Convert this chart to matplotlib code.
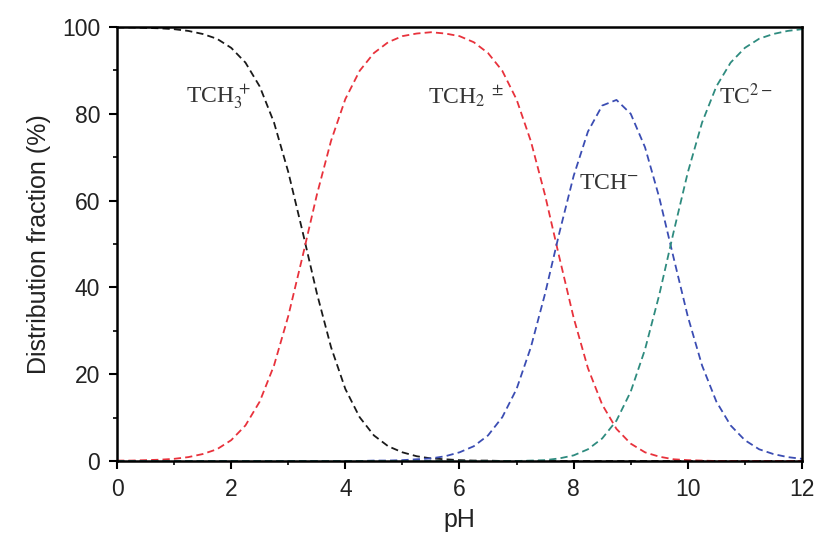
import numpy as np
import matplotlib.pyplot as plt

plt.rcParams['font.family'] = 'Liberation Sans'
plt.rcParams['mathtext.fontset'] = 'stix'

# data (pH 0 to 12 in 0.25 steps)
ph = np.arange(0, 12.01, 0.25)
tch3 = [99.9, 99.9, 99.8, 99.7, 99.5, 99.1, 98.4, 97.3, 95.2, 91.8, 86.3, 78.0,
        66.6, 52.9, 38.7, 26.2, 16.6, 10.1, 5.9, 3.4, 2.0, 1.1, 0.6, 0.4,
        0.2, 0.1, 0.1, 0, 0, 0, 0, 0, 0, 0, 0, 0,
        0, 0, 0, 0, 0, 0, 0, 0, 0, 0, 0, 0, 0]
tch2 = [0.1, 0.1, 0.2, 0.3, 0.5, 0.9, 1.6, 2.7, 4.8, 8.2, 13.7, 22.0,
        33.4, 47.1, 61.3, 73.8, 83.4, 89.9, 94.0, 96.5, 97.9, 98.5, 98.8, 98.5,
        97.9, 96.5, 94.0, 89.9, 83.3, 73.7, 61.2, 46.9, 33.0, 21.4, 13.0, 7.4,
        4.0, 2.0, 1.0, 0.4, 0.2, 0.1, 0, 0, 0, 0, 0, 0, 0]
tch = [0, 0, 0, 0, 0, 0, 0, 0, 0, 0, 0, 0,
       0, 0, 0, 0, 0, 0, 0.1, 0.1, 0.2, 0.4, 0.6, 1.1,
       2.0, 3.4, 5.9, 10.1, 16.6, 26.2, 38.6, 52.6, 65.7, 75.9, 81.9, 83.2,
       80.0, 72.3, 60.7, 46.9, 33.3, 22.0, 13.7, 8.2, 4.8, 2.7, 1.6, 0.9, 0.5]
tc = [0, 0, 0, 0, 0, 0, 0, 0, 0, 0, 0, 0,
      0, 0, 0, 0, 0, 0, 0, 0, 0, 0, 0, 0,
      0, 0, 0, 0, 0, 0.1, 0.2, 0.6, 1.3, 2.7, 5.2, 9.3,
      16.0, 25.7, 38.3, 52.7, 66.5, 78.0, 86.3, 91.8, 95.2, 97.3, 98.4, 99.1, 99.5]

series = [(tch3, '#1a1a1a'), (tch2, '#e8323c'), (tch, '#3b4db3'), (tc, '#2e8b7f')]
labels = [(r'TCH$_3^{\,+}$', 1.2, 84), (r'TCH$_2$ $^{\pm}$', 5.45, 84),
          (r'TCH$^{-}$', 8.1, 64), (r'TC$^{2-}$', 10.55, 84)]

fig = plt.figure(figsize=(8.19, 5.35), dpi=100)
ax = fig.add_axes([0.1429, 0.1383, 0.8363, 0.8112])

for y, c in series:
    ax.plot(ph, y, color=c, lw=1.3, linestyle=(0, (4, 2.3)))

for txt, x, y in labels:
    ax.text(x, y, txt, fontsize=17, family='Liberation Serif', color='#333333',
            va='center', ha='left')

ax.set_xlim(0, 12)
ax.set_ylim(0, 100)
ax.set_xticks(range(0, 13, 2))
ax.set_xticks(range(1, 13, 2), minor=True)
ax.set_yticks(range(0, 101, 20))
ax.set_yticks(range(10, 100, 20), minor=True)
ax.tick_params(which='major', direction='out', length=6, width=1.5,
               labelsize=16.5, pad=6, labelcolor='#222222')
ax.tick_params(which='minor', direction='out', length=3, width=1.2)
for s in ax.spines.values():
    s.set_linewidth(1.8)
ax.set_xlabel('pH', fontsize=18, labelpad=5, color='#222222')
ax.set_ylabel('Distribution fraction (%)', fontsize=18, labelpad=8, color='#222222')

fig.savefig('out.png', dpi=100)
